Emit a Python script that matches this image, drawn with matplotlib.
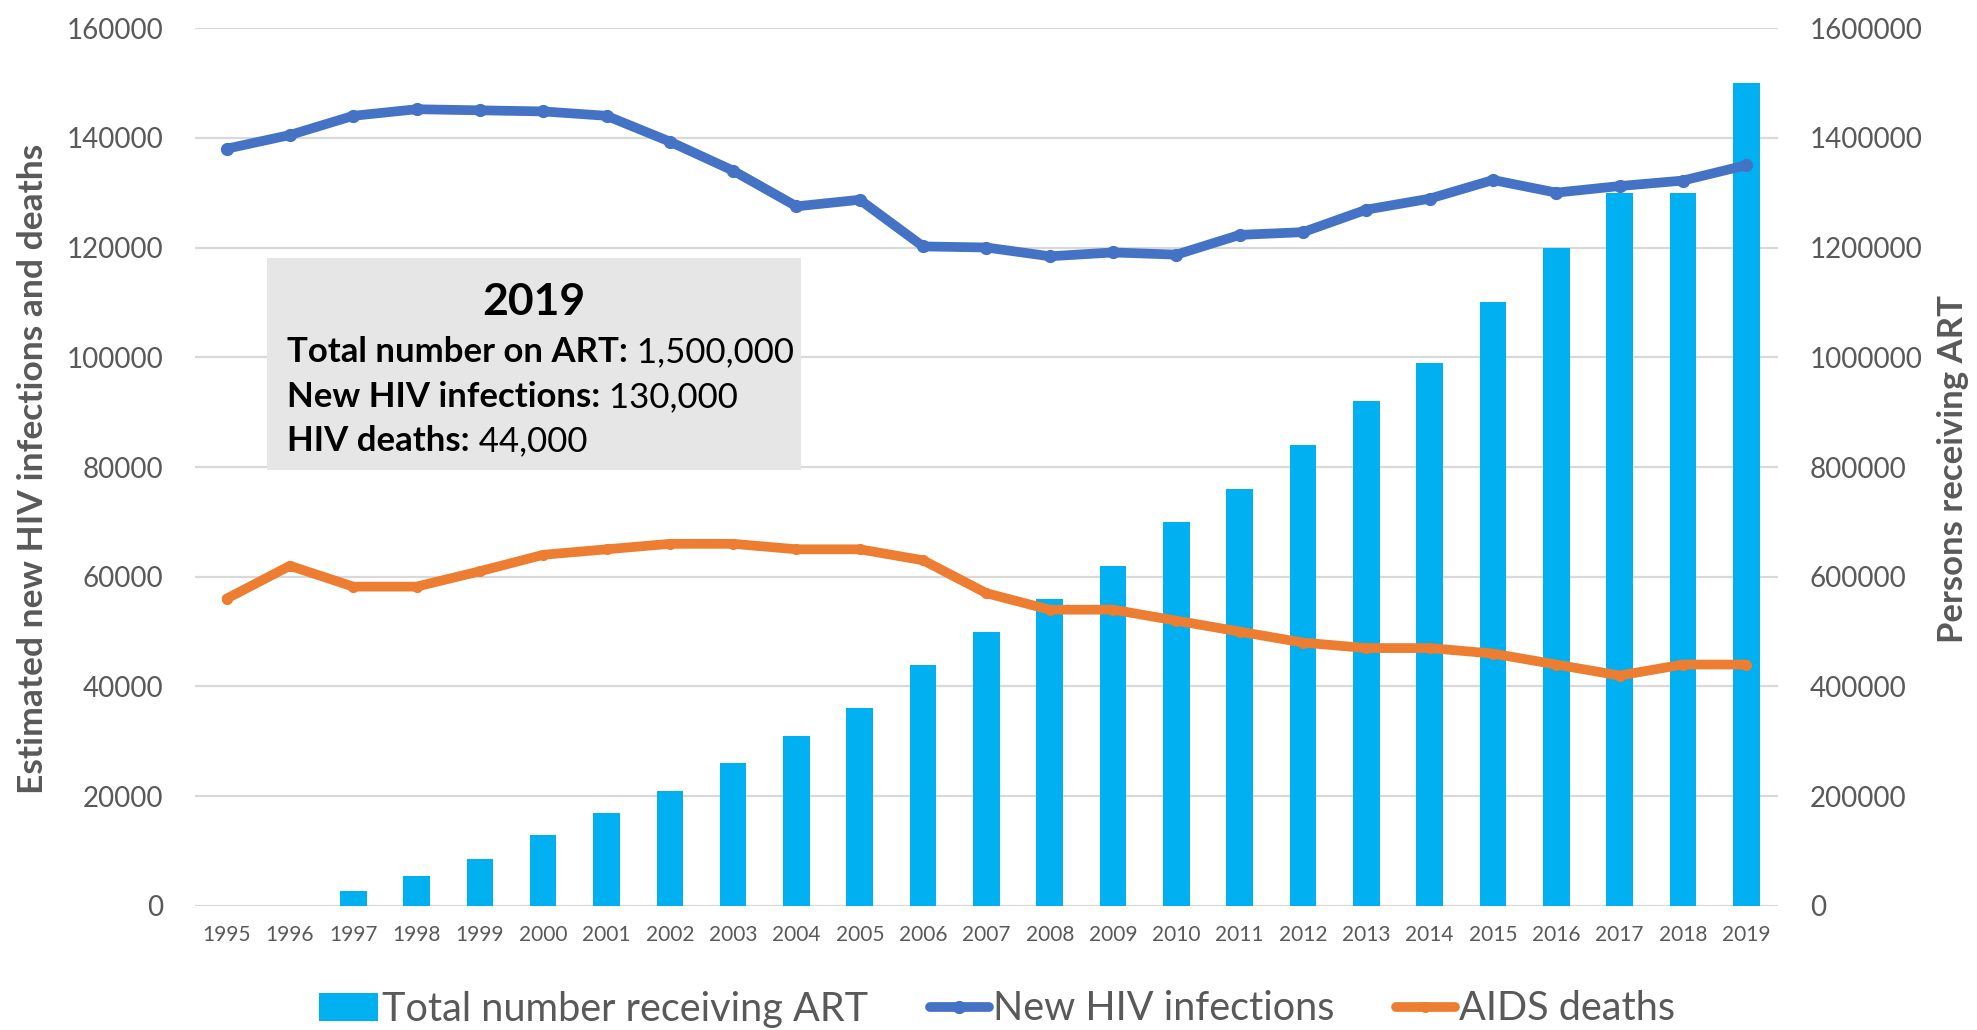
import matplotlib

matplotlib.use("Agg")
import matplotlib.pyplot as plt
import numpy as np
from matplotlib.patches import Rectangle
from matplotlib.text import Annotation
from matplotlib.ticker import FuncFormatter

plt.rcParams["font.family"] = ["Lato", "DejaVu Sans"]

years = [str(y) for y in range(1995, 2020)]
on_art = [0, 0, 28000, 55000, 85000, 130000, 170000, 210000, 260000, 310000, 360000,
          440000, 500000, 560000, 620000, 700000, 760000, 840000, 920000, 990000,
          1100000, 1200000, 1300000, 1300000, 1500000]
new_infections = [138000, 140500, 144000, 145200, 145000, 144800, 144000, 139300, 134000,
                  127500, 128700, 120200, 120000, 118400, 119100, 118700, 122300, 122800,
                  126900, 128900, 132300, 130000, 131200, 132200, 135000]
aids_deaths = [56000, 62000, 58200, 58200, 61000, 64000, 65000, 66000, 66000, 65000, 65000,
               63000, 57000, 54000, 54000, 52000, 50000, 48000, 47000, 47000, 46000, 44000,
               42000, 44000, 44000]
left_ticks = list(range(0, 160001, 20000))
right_ticks = list(range(0, 1600001, 200000))

summary_title = "2019"
summary_lines = [
    ("Total number on ART:", " 1,500,000"),
    ("New HIV infections:", " 130,000"),
    ("HIV deaths:", " 44,000"),
]

BAR_COLOR = "#00B0F0"
BLUE = "#4472C4"
ORANGE = "#ED7D31"
GRID = "#D9D9D9"
TEXT = "#595959"

fig = plt.figure(figsize=(19.77, 10.30), dpi=100)
ax = fig.add_axes([0.0986, 0.1204, 0.8007, 0.8524])
ax_bar = ax.twinx()
ax.set_zorder(ax_bar.get_zorder() + 1)
ax.patch.set_visible(False)

x = np.arange(len(years))
bars = ax_bar.bar(x, on_art, width=0.42, color=BAR_COLOR, label="Total number receiving ART")
ax_bar.set_ylim(0, 1600000)
ax_bar.set_yticks(right_ticks)
ax_bar.yaxis.set_major_formatter(FuncFormatter(lambda v, _: f"{int(v)}"))
ax_bar.yaxis.grid(True, color=GRID, linewidth=1.6)
ax_bar.set_axisbelow(True)

line_new, = ax.plot(x, new_infections, color=BLUE, linewidth=7, marker="o", markersize=8.5,
                    solid_capstyle="round", label="New HIV infections")
line_dead, = ax.plot(x, aids_deaths, color=ORANGE, linewidth=7, marker="o", markersize=7,
                     solid_capstyle="round", label="AIDS deaths")
ax.set_ylim(0, 160000)
ax.set_yticks(left_ticks)
ax.yaxis.set_major_formatter(FuncFormatter(lambda v, _: f"{int(v)}"))
ax.set_xlim(-0.5, len(years) - 0.5)
ax.set_xticks(x, years)

for axis in (ax, ax_bar):
    for spine in axis.spines.values():
        spine.set_visible(False)
    axis.tick_params(length=0, colors=TEXT)
ax.tick_params(axis="y", labelsize=20, pad=23)
ax.tick_params(axis="x", labelsize=15, pad=14)
ax_bar.tick_params(axis="y", labelsize=20, pad=23)

fig.text(0.0165, 0.5447, "Estimated new HIV infections and deaths", rotation=90, ha="center",
         va="center", fontsize=25.5, fontweight="bold", color=TEXT)
fig.text(0.988, 0.5447, "Persons receiving ART", rotation=90, ha="center", va="center",
         fontsize=25, fontweight="bold", color=TEXT)

# summary box
box = Rectangle((0.135, 0.5437), 0.270, 0.2058, transform=fig.transFigure,
                facecolor="#E7E6E6", edgecolor="none", zorder=3)
fig.patches.append(box)
fig.text(0.2700, 1 - 302 / 1030, summary_title, ha="center", va="center", fontsize=32,
         fontweight="bold", color="black", zorder=4)
line_y = [352, 397, 441]
for (label, value), y_px in zip(summary_lines, line_y):
    head = fig.text(287 / 1977, 1 - y_px / 1030, label, ha="left", va="center", fontsize=25,
                    fontweight="bold", color="black", zorder=4)
    tail = Annotation(value, xy=(1, 0), xycoords=head, ha="left", va="bottom", fontsize=25,
                      color="black", annotation_clip=False, zorder=4)
    fig.add_artist(tail)

fig.legend([bars, line_new, line_dead],
           ["Total number receiving ART", "New HIV infections", "AIDS deaths"],
           loc="center", bbox_to_anchor=(997 / 1977, 1 - 1009 / 1030), ncol=3, frameon=False,
           fontsize=28.5, handlelength=1.5, handletextpad=0.1, columnspacing=1.55,
           labelcolor=TEXT)

fig.savefig("out.png", dpi=100)
